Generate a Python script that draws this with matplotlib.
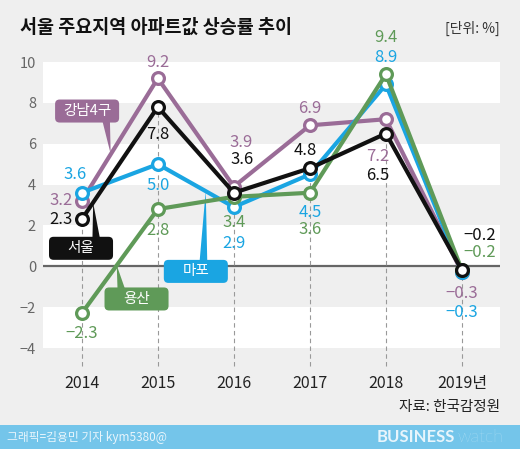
import matplotlib
matplotlib.use("Agg")
import matplotlib.pyplot as plt
from matplotlib.patches import FancyBboxPatch

plt.rcParams['font.family'] = ['Noto Sans CJK KR', 'DejaVu Sans']

years = ['2014', '2015', '2016', '2017', '2018', '2019년']
seoul = [2.3, 7.8, 3.6, 4.8, 6.5, -0.2]
gangnam = [3.2, 9.2, 3.9, 6.9, 7.2, -0.3]
mapo = [3.6, 5.0, 2.9, 4.5, 8.9, -0.3]
yongsan = [-2.3, 2.8, 3.4, 3.6, 9.4, -0.2]
yticks = [-4, -2, 0, 2, 4, 6, 8, 10]

BG = '#efefef'
C_SEOUL = '#111111'
C_GANGNAM = '#9a6c97'
C_MAPO = '#1aa5e2'
C_YONGSAN = '#5f9a58'

# label offsets in pixels (dx, dy), one per year
off_gangnam = [(-21, 0), (0, 16), (7, 44), (0, 17), (-8, -37), (0, -21)]
off_seoul = [(-21, 0), (0, -28), (8, 33), (-5, 18), (-8, -42), (18, 35)]
off_mapo = [(-7, 18), (0, -21), (0, -36), (0, -38), (0, 27), (0, -40)]
off_yongsan = [(0, -20), (0, -21), (0, -26), (0, -37), (0, 37), (18, 18)]

PX_X, PX_Y = 76.0, 20.4  # pixels per data unit

W, H = 520, 449
fig = plt.figure(figsize=(W / 100, H / 100), dpi=100, facecolor=BG)
ax = fig.add_axes([43 / W, 1 - 348 / H, (500 - 43) / W, (348 - 62) / H])
ax.set_facecolor(BG)
x = list(range(len(years)))
ax.set_xlim(-0.51, 5.5)
ax.set_ylim(-4, 10)

# alternating bands
for lo in [8, 4, 0, -4]:
    ax.axhspan(lo, lo + 2, color='white', zorder=0, lw=0)
ax.axhline(0, color='#666666', lw=1.6, zorder=1)

for i in x:
    ax.plot([i, i], [-4.9, seoul[i]], color='#999999', lw=0.8, ls=(0, (4, 3)),
            zorder=1, clip_on=False)
    ax.text(i, -5.75, years[i], ha='center', va='center', fontsize=11.5,
            color='#222222')

for s in ax.spines.values():
    s.set_visible(False)
ax.set_xticks([])
ax.set_yticks(yticks)
ax.set_yticklabels([str(t).replace('-', '−') for t in yticks])
ax.tick_params(axis='y', length=0, pad=5, labelsize=10.5, labelcolor='#666666')

# callout boxes (drawn under the lines)
callouts = [
    ('강남4구', C_GANGNAM, (0.07, 7.6), (0.38, 5.5), (0.25, -0.45)),
    ('서울', C_SEOUL, (-0.01, 0.88), (0.15, 3.1), (0.2, 0.45)),
    ('마포', C_MAPO, (1.5, -0.25), (1.63, 3.7), (0.1, 0.5)),
    ('용산', C_YONGSAN, (0.72, -1.6), (0.46, 0.05), (-0.2, 0.45)),
]
bw, bh = 64 / PX_X, 23 / PX_Y
for txt, col, pos, tip, base in callouts:
    ax.annotate('', xy=tip, xytext=(pos[0] + base[0], pos[1] + base[1]),
                arrowprops=dict(arrowstyle='wedge,tail_width=0.55,shrink_factor=0.5',
                                fc=col, ec='none', shrinkA=0, shrinkB=0),
                zorder=2)
    ax.add_patch(FancyBboxPatch((pos[0] - bw / 2, pos[1] - bh / 2), bw, bh,
                                boxstyle='round,pad=0,rounding_size=0.06',
                                mutation_aspect=PX_X / PX_Y, fc=col, ec='none',
                                zorder=2.2, clip_on=False))
    ax.text(pos[0], pos[1], txt, ha='center', va='center', fontsize=10.5,
            color='white', zorder=2.5)

series = [
    (gangnam, C_GANGNAM, off_gangnam),
    (mapo, C_MAPO, off_mapo),
    (yongsan, C_YONGSAN, off_yongsan),
    (seoul, C_SEOUL, off_seoul),
]
for z, (vals, col, offs) in enumerate(series):
    ax.plot(x, vals, color=col, lw=3, marker='o', ms=8.5, mfc='white',
            mec=col, mew=2.3, zorder=3 + z, clip_on=False)
    for i, v in enumerate(vals):
        ax.annotate(f'{v:.1f}'.replace('-', '−'), (i, v), xytext=offs[i],
                    textcoords='offset pixels', ha='center', va='center',
                    fontsize=12, color=col, fontweight='medium', zorder=10,
                    annotation_clip=False)

fig.text(20 / W, 1 - 27 / H, '서울 주요지역 아파트값 상승률 추이', ha='left', va='center',
         fontsize=13.3, fontweight='bold', color='#111111')
fig.text(500 / W, 1 - 28 / H, '[단위: %]', ha='right', va='center', fontsize=10,
         color='#333333')
fig.text(500 / W, 1 - 407 / H, '자료: 한국감정원', ha='right', va='center',
         fontsize=10.5, color='#222222')

# footer band
fig.patches.append(plt.Rectangle((0, 0), 1, 24 / H, transform=fig.transFigure,
                                 fc='#74c5ea', ec='none', zorder=0))
fig.text(7 / W, 12 / H, '그래픽=김용민 기자 kym5380@', ha='left', va='center',
         fontsize=8.5, color='#e8f5fc')
fig.text(455 / W, 12 / H, 'BUSINESS', ha='right', va='center', fontsize=12,
         fontweight='bold', color='#e8f5fc', family=['Lato', 'DejaVu Sans'])
fig.text(457 / W, 12 / H, 'watch', ha='left', va='center', fontsize=13,
         fontweight='light', color='#c9e9f8', family=['Lato', 'DejaVu Sans'])

fig.savefig('out.png', dpi=100, facecolor=BG)
